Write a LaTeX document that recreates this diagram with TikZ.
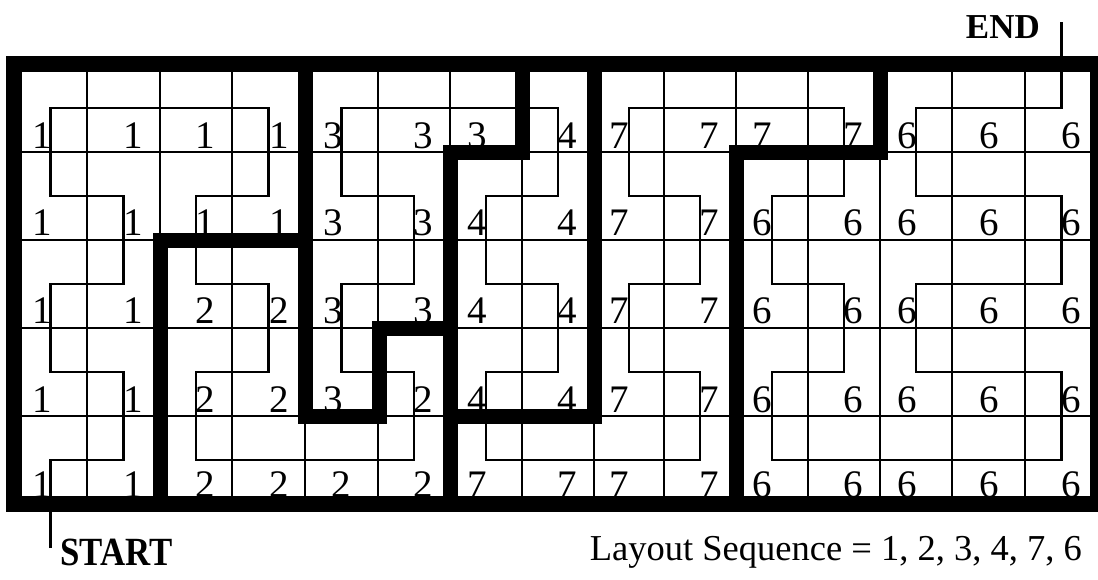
\documentclass[tikz,border=0pt]{standalone}
\usepackage{fontspec}
\setmainfont{Liberation Serif}
\usepackage{graphicx}
\tikzset{
  gridline/.style={line width=2.2pt, black},
  trail/.style={line width=2.4pt, black, line join=miter},
  wall/.style={line width=15pt, black, line join=miter, line cap=rect},
  digit/.style={anchor=base, inner sep=0pt, font=\fontsize{39}{44}\selectfont},
  lab/.style={inner sep=0pt},
}
\begin{document}
\begin{tikzpicture}[x=1pt,y=-1pt]
\useasboundingbox (0,0) rectangle (1098,579);
% thin cell grid
\foreach \x in {87,160,232,305,378,450,522,594,664,736,808,880,952,1025}
  \draw[gridline] (\x,64) -- (\x,504);
\foreach \y in {152,240,328,416}
  \draw[gridline] (14,\y) -- (1098,\y);
% cell centres
\foreach \x [count=\i from 0] in {50.5,123.5,196,268.5,341.5,414,486,558,629,700,772,844,916,988.5,1061.5}
  \foreach \y [count=\j from 0] in {108,196,284,372,460}
    \coordinate (c\i-\j) at (\x,\y);
\coordinate (start) at (50.5,548);
\coordinate (end) at (1061.5,22);
% serpentine path
\draw[trail] (start) -- (c0-4) -- (c1-4) -- (c1-3) -- (c0-3) -- (c0-2) -- (c1-2) -- (c1-1) -- (c0-1) -- (c0-0)
  -- (c3-0) -- (c3-1) -- (c2-1) -- (c2-2) -- (c3-2) -- (c3-3) -- (c2-3) -- (c2-4)
  -- (c5-4) -- (c5-3) -- (c4-3) -- (c4-2) -- (c5-2) -- (c5-1) -- (c4-1) -- (c4-0)
  -- (c7-0) -- (c7-1) -- (c6-1) -- (c6-2) -- (c7-2) -- (c7-3) -- (c6-3) -- (c6-4)
  -- (c9-4) -- (c9-3) -- (c8-3) -- (c8-2) -- (c9-2) -- (c9-1) -- (c8-1) -- (c8-0)
  -- (c11-0) -- (c11-1) -- (c10-1) -- (c10-2) -- (c11-2) -- (c11-3) -- (c10-3) -- (c10-4)
  -- (c14-4) -- (c14-3) -- (c12-3) -- (c12-2) -- (c14-2) -- (c14-1) -- (c12-1) -- (c12-0)
  -- (c14-0) -- (end);
% digits
\def\digx{{42,133,205,279,333,423,477,567,619,709,762,853,907,989,1071}}
\def\digxb{{42,133,205,279,341,423,477,567,619,709,762,853,907,989,1071}}
\foreach \d [count=\c from 0] in {1,1,1,1,3,3,3,4,7,7,7,7,6,6,6}
  {\pgfmathsetmacro{\xx}{\digx[\c]}\node[digit] (n0-\c) at (\xx,148) {\d};}
\foreach \d [count=\c from 0] in {1,1,1,1,3,3,4,4,7,7,6,6,6,6,6}
  {\pgfmathsetmacro{\xx}{\digx[\c]}\node[digit] (n1-\c) at (\xx,235) {\d};}
\foreach \d [count=\c from 0] in {1,1,2,2,3,3,4,4,7,7,6,6,6,6,6}
  {\pgfmathsetmacro{\xx}{\digx[\c]}\node[digit] (n2-\c) at (\xx,323) {\d};}
\foreach \d [count=\c from 0] in {1,1,2,2,3,2,4,4,7,7,6,6,6,6,6}
  {\pgfmathsetmacro{\xx}{\digx[\c]}\node[digit] (n3-\c) at (\xx,412) {\d};}
\foreach \d [count=\c from 0] in {1,1,2,2,2,2,7,7,7,7,6,6,6,6,6}
  {\pgfmathsetmacro{\xx}{\digxb[\c]}\node[digit] (n4-\c) at (\xx,497) {\d};}
% thick region borders
\draw[wall] (305,240) -- (160,240) -- (160,504);
\draw[wall] (305,64) -- (305,416) -- (379,416) -- (379,328) -- (450,328);
\draw[wall] (522,64) -- (522,152) -- (450,152) -- (450,504);
\draw[wall] (450,416) -- (594,416) -- (594,64);
\draw[wall] (736,504) -- (736,152) -- (880,152) -- (880,64);
\draw[line width=16pt, black, line join=miter] (14,64) rectangle (1098,504);
% labels
\node[lab, anchor=base west, font=\fontsize{40}{46}\selectfont\bfseries] (startlabel) at (60,565) {\scalebox{0.87}[1]{START}};
\node[lab, anchor=base east, font=\fontsize{35}{42}\selectfont\bfseries] (endlabel) at (1040,38) {END};
\node[lab, anchor=base east, font=\fontsize{36.5}{44}\selectfont] (seq) at (1082,560) {Layout Sequence = 1, 2, 3, 4, 7, 6};
\end{tikzpicture}
\end{document}
